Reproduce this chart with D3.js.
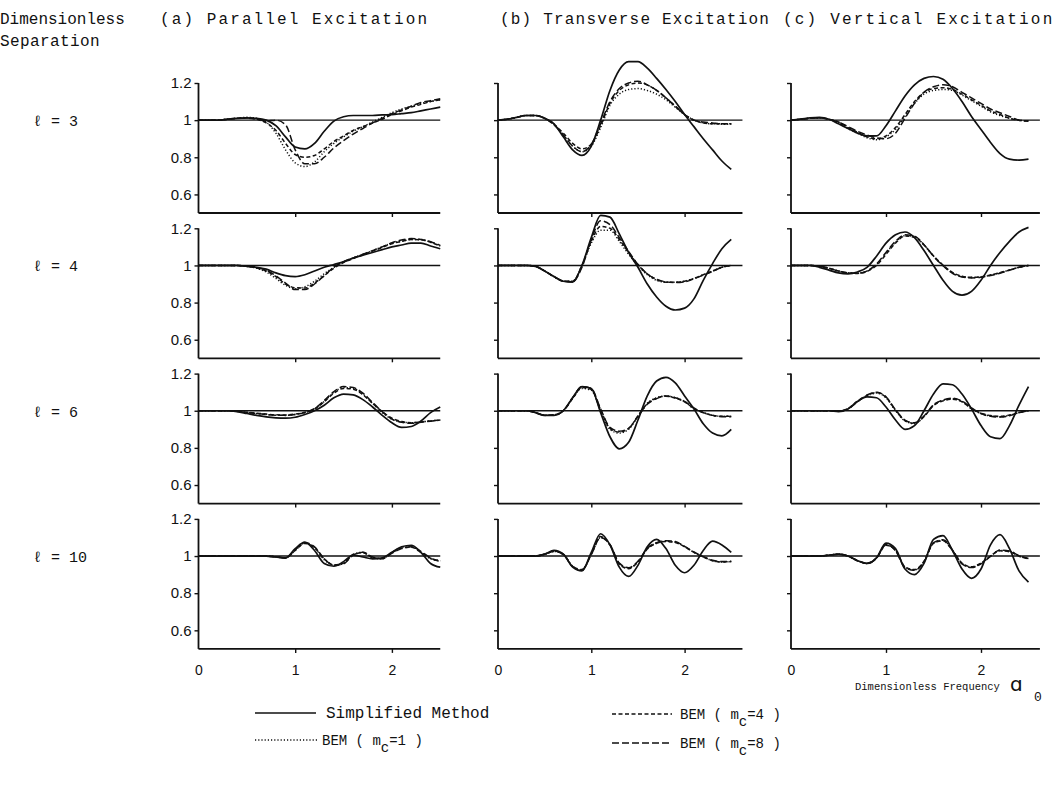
<!DOCTYPE html>
<html><head><meta charset="utf-8">
<script src="https://cdn.jsdelivr.net/npm/d3@7"></script>
<style>body{margin:0;background:#fff}</style>
</head><body>
<svg id="chart" width="1061" height="794"></svg>
<script>
// ---------- DATA ----------
const xGrid = [0,0.1,0.2,0.3,0.4,0.5,0.6,0.7,0.8,0.9,1.0,1.1,1.2,1.3,1.4,1.5,1.6,1.7,1.8,1.9,2.0,2.1,2.2,2.3,2.4,2.5];
const columnTitles = ["(a) Parallel Excitation","(b) Transverse Excitation","(c) Vertical Excitation"];
const separations = ["3","4","6","10"];
const yTicks = [0.6,0.8,1,1.2];
const xTicks = [0,1,2];
const seriesNames = ["Simplified Method","BEM ( mc=1 )","BEM ( mc=4 )","BEM ( mc=8 )"];

// (a) Parallel excitation
const par3_sim = [1,1,1,1.005,1.01,1.012,1.01,1,.97,.91,.855,.845,.875,.94,.995,1.018,1.025,1.025,1.025,1.028,1.03,1.035,1.04,1.05,1.06,1.07];
const par3_m1  = [1,1,1,1.005,1.01,1.015,1.01,.99,.93,.84,.77,.75,.775,.83,.875,.91,.94,.965,.99,1.015,1.04,1.06,1.075,1.09,1.1,1.11];
const par3_m4  = [1,1,1,1.005,1.01,1.012,1.005,.985,.945,.875,.815,.8,.81,.845,.885,.915,.945,.965,.985,1.005,1.03,1.05,1.07,1.085,1.1,1.11];
const par3_m8  = [1,1,1,1.005,1.01,1.01,1.005,.995,1.0,.975,.84,.765,.765,.8,.85,.89,.925,.955,.985,1.01,1.035,1.055,1.075,1.095,1.105,1.115];

const par4_sim = [1,1,1,1,1,.995,.99,.98,.96,.945,.94,.95,.97,.99,1.005,1.02,1.04,1.055,1.07,1.085,1.1,1.11,1.12,1.12,1.105,1.09];
const par4_m1  = [1,1,1,1,1,.995,.985,.965,.93,.893,.875,.885,.915,.955,.99,1.02,1.04,1.06,1.08,1.1,1.12,1.13,1.14,1.14,1.125,1.105];
const par4_m4  = [1,1,1,1,1,.995,.987,.97,.94,.9,.88,.878,.905,.945,.985,1.015,1.037,1.057,1.077,1.097,1.117,1.13,1.14,1.138,1.125,1.105];
const par4_m8  = [1,1,1,1,1,.995,.99,.975,.945,.905,.87,.87,.9,.945,.99,1.02,1.04,1.06,1.08,1.1,1.122,1.137,1.145,1.14,1.128,1.108];

const par6_sim = [1,1,1,1,.995,.985,.975,.967,.962,.96,.965,.98,1.0,1.03,1.07,1.09,1.085,1.06,1.02,.975,.935,.91,.915,.945,.99,1.02];
const par6_m1  = [1,1,1,1,.996,.99,.985,.98,.976,.975,.98,.99,1.01,1.05,1.1,1.125,1.12,1.09,1.04,.99,.955,.94,.935,.94,.945,.95];
const par6_m4  = [1,1,1,1,.997,.992,.987,.982,.978,.977,.982,.992,1.01,1.048,1.095,1.12,1.116,1.086,1.04,.995,.96,.942,.936,.94,.945,.95];
const par6_m8  = [1,1,1,1,.996,.99,.985,.98,.976,.976,.98,.99,1.012,1.055,1.103,1.13,1.125,1.095,1.045,.995,.955,.938,.932,.938,.944,.95];

const par10_sim = [1,1,1,1,1,1,1,1,.995,.99,1.04,1.075,1.03,.96,.945,.97,1.005,.995,.985,.99,1.02,1.05,1.058,1.02,.96,.94];
const par10_m1  = [1,1,1,1,1,1,1,1,.995,.99,1.03,1.07,1.045,.98,.95,.96,1.01,1.02,.99,.985,1.02,1.045,1.05,1.02,.985,.975];
const par10_m4  = [1,1,1,1,1,1,1,1,.995,.99,1.03,1.068,1.045,.985,.952,.962,1.008,1.018,.992,.987,1.018,1.043,1.048,1.02,.988,.975];
const par10_m8  = [1,1,1,1,1,1,1,1,.995,.99,1.035,1.072,1.05,.985,.95,.958,1.005,1.02,.995,.985,1.015,1.04,1.05,1.025,.99,.97];

// (b) Transverse excitation
const tra3_sim = [1,1.005,1.015,1.025,1.025,1.01,.98,.91,.84,.81,.86,1.0,1.16,1.27,1.315,1.315,1.28,1.225,1.165,1.1,1.03,.965,.9,.84,.78,.735];
const tra3_m1  = [1,1.005,1.015,1.025,1.025,1.01,.98,.92,.86,.83,.86,.96,1.08,1.14,1.165,1.17,1.16,1.14,1.11,1.07,1.03,1.0,.985,.98,.978,.978];
const tra3_m4  = [1,1.005,1.015,1.025,1.025,1.01,.975,.93,.875,.845,.87,.97,1.09,1.16,1.19,1.2,1.19,1.16,1.12,1.075,1.03,1.0,.985,.98,.98,.98];
const tra3_m8  = [1,1.005,1.015,1.025,1.025,1.01,.975,.92,.86,.83,.87,.98,1.1,1.17,1.2,1.21,1.19,1.16,1.12,1.075,1.03,1.0,.99,.985,.98,.98];

const tra4_sim = [1,1,1,1,.995,.97,.94,.915,.91,1.0,1.15,1.27,1.26,1.17,1.07,.99,.9,.83,.78,.76,.77,.82,.92,1.01,1.09,1.14];
const tra4_m1  = [1,1,1,1,.995,.97,.94,.915,.915,1.0,1.12,1.19,1.19,1.13,1.06,1.0,.95,.92,.91,.91,.915,.93,.95,.97,.99,1.0];
const tra4_m4  = [1,1,1,1,.995,.97,.94,.915,.915,1.0,1.13,1.21,1.2,1.14,1.07,1.005,.955,.925,.91,.91,.915,.93,.95,.97,.99,1.0];
const tra4_m8  = [1,1,1,1,.995,.97,.94,.915,.912,.99,1.14,1.24,1.22,1.15,1.075,1.005,.955,.925,.912,.908,.912,.928,.948,.968,.99,1.0];

const tra6_sim = [1,1,1,1,.99,.975,.975,1.0,1.07,1.13,1.12,.99,.86,.795,.83,.95,1.08,1.16,1.18,1.15,1.08,1.01,.93,.88,.865,.9];
const tra6_m1  = [1,1,1,1,.99,.975,.978,1.0,1.07,1.12,1.11,1.0,.9,.88,.9,.97,1.04,1.07,1.08,1.07,1.05,1.01,.99,.975,.97,.97];
const tra6_m4  = [1,1,1,1,.99,.976,.978,1.0,1.065,1.125,1.115,1.005,.905,.885,.905,.972,1.038,1.068,1.078,1.068,1.048,1.012,.99,.976,.97,.97];
const tra6_m8  = [1,1,1,1,.99,.975,.977,1.0,1.07,1.13,1.12,1.01,.91,.89,.905,.97,1.035,1.065,1.08,1.07,1.05,1.015,.99,.975,.968,.968];

const tra10_sim = [1,1,1,1,1,1.01,1.03,1.01,.94,.92,1.02,1.12,1.06,.94,.89,.95,1.05,1.09,1.04,.95,.91,.95,1.03,1.08,1.06,1.02];
const tra10_m1  = [1,1,1,1,1,1.01,1.025,1.01,.945,.925,1.01,1.1,1.06,.96,.935,.97,1.04,1.07,1.08,1.075,1.05,1.02,.995,.975,.968,.97];
const tra10_m4  = [1,1,1,1,1,1.01,1.027,1.01,.943,.923,1.012,1.105,1.06,.958,.932,.968,1.038,1.068,1.078,1.073,1.05,1.02,.995,.975,.968,.97];
const tra10_m8  = [1,1,1,1,1,1.01,1.025,1.008,.945,.927,1.008,1.1,1.062,.962,.937,.972,1.042,1.072,1.082,1.078,1.052,1.022,.997,.977,.97,.972];

// (c) Vertical excitation
const ver3_sim = [1,1.005,1.012,1.015,1.005,.98,.955,.93,.915,.915,.97,1.05,1.13,1.19,1.225,1.235,1.22,1.17,1.1,1.02,.95,.88,.82,.79,.785,.79];
const ver3_m1  = [1,1.005,1.01,1.012,1.005,.985,.955,.93,.905,.895,.91,.95,1.02,1.09,1.14,1.16,1.165,1.16,1.135,1.105,1.075,1.045,1.025,1.01,1.0,.995];
const ver3_m4  = [1,1.005,1.01,1.012,1.005,.99,.96,.935,.91,.9,.915,.96,1.03,1.1,1.15,1.17,1.175,1.165,1.14,1.11,1.08,1.05,1.03,1.01,1.0,.995];
const ver3_m8  = [1,1.005,1.01,1.012,1.005,.99,.965,.94,.92,.905,.9,.93,1.01,1.09,1.15,1.18,1.19,1.18,1.15,1.12,1.09,1.06,1.04,1.02,1.0,.995];

const ver4_sim = [1,1,1,.99,.975,.96,.955,.965,.99,1.05,1.12,1.165,1.18,1.15,1.08,1.0,.92,.86,.84,.86,.92,1.0,1.07,1.13,1.18,1.205];
const ver4_m1  = [1,1,1,.995,.985,.97,.96,.958,.97,1.005,1.065,1.125,1.16,1.155,1.11,1.05,1.0,.96,.94,.935,.938,.948,.96,.975,.99,1.0];
const ver4_m4  = [1,1,1,.995,.985,.97,.96,.957,.968,1.0,1.06,1.12,1.158,1.152,1.11,1.052,1.002,.962,.942,.936,.939,.949,.961,.976,.99,1.0];
const ver4_m8  = [1,1,1,.995,.985,.97,.96,.958,.97,1.008,1.07,1.13,1.165,1.158,1.112,1.05,.998,.958,.938,.933,.936,.946,.958,.974,.99,1.0];

const ver6_sim = [1,1,1,1,1,.995,1.01,1.05,1.075,1.07,1.02,.95,.9,.92,1.0,1.09,1.145,1.14,1.09,1.01,.92,.86,.85,.92,1.03,1.13];
const ver6_m1  = [1,1,1,1,1,.998,1.01,1.05,1.08,1.095,1.07,1.0,.945,.93,.97,1.03,1.055,1.064,1.05,1.01,.985,.972,.968,.975,.99,1.0];
const ver6_m4  = [1,1,1,1,1,.998,1.012,1.052,1.082,1.098,1.072,1.003,.947,.932,.968,1.028,1.053,1.062,1.048,1.012,.987,.974,.97,.977,.99,1.0];
const ver6_m8  = [1,1,1,1,1,.998,1.01,1.048,1.085,1.1,1.075,1.005,.95,.935,.972,1.032,1.058,1.067,1.052,1.015,.985,.97,.966,.973,.99,1.0];

const ver10_sim = [1,1,1,1,1.005,1.01,1.0,.975,.96,.99,1.07,1.04,.93,.9,.96,1.09,1.11,1.03,.93,.88,.93,1.06,1.115,1.04,.92,.86];
const ver10_m1  = [1,1,1,1,1.005,1.01,1.0,.975,.96,.99,1.06,1.03,.94,.925,.97,1.07,1.085,1.03,.96,.94,.96,1.0,1.03,1.025,1.0,.985];
const ver10_m4  = [1,1,1,1,1.005,1.01,1.0,.975,.962,.99,1.058,1.032,.942,.927,.972,1.068,1.082,1.03,.962,.942,.962,1.0,1.028,1.023,1.0,.985];
const ver10_m8  = [1,1,1,1,1.005,1.01,1.0,.976,.96,.988,1.062,1.028,.938,.923,.968,1.072,1.088,1.032,.958,.938,.958,.998,1.032,1.027,1.002,.987];

const panels = [
  [[par3_sim,par3_m1,par3_m4,par3_m8],[tra3_sim,tra3_m1,tra3_m4,tra3_m8],[ver3_sim,ver3_m1,ver3_m4,ver3_m8]],
  [[par4_sim,par4_m1,par4_m4,par4_m8],[tra4_sim,tra4_m1,tra4_m4,tra4_m8],[ver4_sim,ver4_m1,ver4_m4,ver4_m8]],
  [[par6_sim,par6_m1,par6_m4,par6_m8],[tra6_sim,tra6_m1,tra6_m4,tra6_m8],[ver6_sim,ver6_m1,ver6_m4,ver6_m8]],
  [[par10_sim,par10_m1,par10_m4,par10_m8],[tra10_sim,tra10_m1,tra10_m4,tra10_m8],[ver10_sim,ver10_m1,ver10_m4,ver10_m8]]
];

// ---------- LAYOUT ----------
const svg = d3.select("#chart");
const ink = "#111";
const mono = "'Liberation Mono','DejaVu Sans Mono',monospace";
const sans = "'Liberation Sans',Arial,sans-serif";
const colX0 = [198.5, 498, 791];
const colUnit = [96.7, 93.3, 95];
const colXMax = [2.5, 2.62, 2.62];
const rowTop0 = 83, rowStep = 145.3, panelH = 130;
const dashes = [null, "1.2,2", "4,2.5", "7,3"];
const widths = [1.7, 1.5, 1.5, 1.5];

svg.append("rect").attr("width",1061).attr("height",794).attr("fill","#fff");

panels.forEach((row, r) => {
  const top = rowTop0 + r*rowStep;
  const y = d3.scaleLinear().domain([0.5,1.2]).range([top+panelH, top]);
  row.forEach((series, c) => {
    const x = d3.scaleLinear().domain([0,1]).range([colX0[c], colX0[c]+colUnit[c]]);
    const g = svg.append("g");
    // x axis
    const xa = g.append("g").attr("transform",`translate(0,${y(0.5)})`)
      .call(d3.axisBottom(x).tickValues(xTicks).tickSize(4).tickSizeOuter(0)
        .tickFormat(r===3 ? d3.format("d") : ""));
    xa.select(".domain").attr("d",`M${x(0)},0H${x(colXMax[c])}`);
    // y axis
    const ya = g.append("g").attr("transform",`translate(${x(0)},0)`)
      .call(d3.axisLeft(y).tickValues(yTicks).tickSize(4).tickSizeOuter(0)
        .tickFormat(c===0 ? (d => d===1 ? "1" : d3.format(".1f")(d)) : ""));
    ya.select(".domain").attr("d",`M0,${y(1.2)}V${y(0.5)}`);
    g.selectAll(".domain").attr("stroke",ink).attr("stroke-width",1.8);
    g.selectAll(".tick line").attr("stroke",ink).attr("stroke-width",1.4);
    xa.selectAll(".tick line").filter(d=>d===0).remove();
    xa.selectAll("text").attr("font-family",sans).attr("font-size",14).attr("fill",ink).attr("dy","1.35em");
    ya.selectAll("text").attr("font-family",sans).attr("font-size",15).attr("fill",ink).attr("x",-7);
    // reference line at 1
    g.append("line").attr("x1",x(0)).attr("x2",x(colXMax[c])).attr("y1",y(1)).attr("y2",y(1))
      .attr("stroke",ink).attr("stroke-width",1.4);
    // curves
    const line = d3.line().x((d,i)=>x(xGrid[i])).y(d=>y(d)).curve(d3.curveMonotoneX);
    [3,2,1,0].forEach(k => {
      g.append("path").attr("d",line(series[k])).attr("fill","none")
        .attr("stroke",ink).attr("stroke-width",widths[k])
        .attr("stroke-dasharray",dashes[k]);
    });
  });
  // row label
  svg.append("text").attr("x",33).attr("y",y(1)+6)
    .attr("font-family",mono).attr("font-size",15).attr("fill",ink)
    .text("\u2113 = " + separations[r]);
});

// ---------- HEADERS ----------
const hdr = (t,x,yy,ls) => svg.append("text").attr("x",x).attr("y",yy)
  .attr("font-family",mono).attr("font-size",16).attr("letter-spacing",ls).attr("fill",ink).text(t);
hdr("Dimensionless",0,24,0);
hdr("Separation",0,46,0.4);
hdr(columnTitles[0],160,24,2.1);
hdr(columnTitles[1],500,24,1.2);
hdr(columnTitles[2],783,24,2.2);

// x-axis title
svg.append("text").attr("x",855).attr("y",690).attr("font-family",mono)
  .attr("font-size",10.5).attr("fill",ink)
  .text("Dimensionless Frequency");
svg.append("text").attr("x",1010).attr("y",691).attr("font-family","'DejaVu Sans',sans-serif")
  .attr("font-size",20).attr("fill",ink).text("\u0251");
svg.append("text").attr("x",1034).attr("y",701).attr("font-family",mono)
  .attr("font-size",13).attr("fill",ink).text("0");

// ---------- LEGEND ----------
const legend = [
  {x1:255,x2:316,y:713,tx:326,k:0},
  {x1:255,x2:318,y:740,tx:322,k:1},
  {x1:612,x2:672,y:714,tx:680,k:2},
  {x1:612,x2:672,y:743,tx:680,k:3}
];
legend.forEach(L => {
  svg.append("line").attr("x1",L.x1).attr("x2",L.x2).attr("y1",L.y).attr("y2",L.y)
    .attr("stroke",ink).attr("stroke-width",widths[L.k]).attr("stroke-dasharray",dashes[L.k]);
  const t = svg.append("text").attr("x",L.tx).attr("y",L.y+5).attr("font-family",mono)
    .attr("font-size",L.k===0?16:14).attr("fill",ink);
  if (L.k===0) { t.text(seriesNames[0]); }
  else {
    const nm = seriesNames[L.k];           // "BEM ( mc=N )"
    const num = nm.match(/=(\d+)/)[1];
    t.append("tspan").text("BEM ( m");
    t.append("tspan").attr("dy",7).text("c");
    t.append("tspan").attr("dy",-7).text("=" + num + " )");
  }
});
</script>
</body></html>
